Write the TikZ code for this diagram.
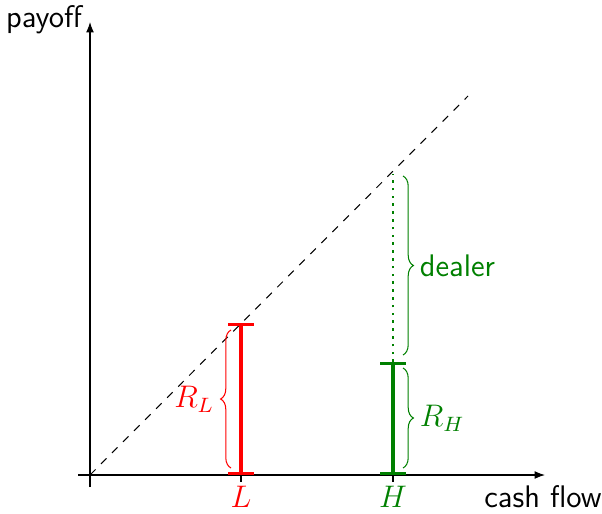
\documentclass[tikz,border=0pt]{standalone}
\usetikzlibrary{decorations.pathreplacing,arrows.meta}
\begin{document}
\begin{tikzpicture}[x=0.3846pt,y=-0.3846pt,
  axis/.style={thin,-{Latex[length=4pt,width=3pt]}},
  lbl/.style={font=\sffamily\large},
  brc/.style={decorate,decoration={brace,amplitude=4pt}},
  dkgreen/.style={green!50!black}]
\useasboundingbox (0,0) rectangle (602,513);
\coordinate (o) at (90,475);
\coordinate (xs) at (78,475);
\coordinate (xe) at (545,475);
\coordinate (ys) at (90,487);
\coordinate (ye) at (90,22);
\draw[axis] (xs) -- (xe);
\draw[axis] (ys) -- (ye);
\node[lbl] (py) at (44,20) {payoff};
\node[lbl] (cf) at (543,497) {cash flow};
\coordinate (de) at (468,96);
\draw[dashed] (o) -- (de);
% L
\coordinate (Lb) at (241,475);
\coordinate (Lt) at (241,323);
\coordinate (Lk) at (241,482);
\draw[thin] (Lb) -- (Lk);
\draw[red,line width=1.3pt,{|[width=10pt]}-{|[width=10pt]}] (Lb) -- (Lt);
\node[red,font=\large] (L) at (241,497) {$L$};
\coordinate (bL1) at (231,468);
\coordinate (bL2) at (231,330);
\draw[red,brc] (bL1) -- (bL2) node[midway,left=3pt,font=\large] (RL) {$R_L$};
% H
\coordinate (Hb) at (393,475);
\coordinate (Hm) at (393,362);
\coordinate (Ht) at (393,174);
\coordinate (Hk) at (393,482);
\draw[thin] (Hb) -- (Hk);
\draw[dkgreen,line width=1.3pt,{|[width=10pt]}-{|[width=10pt]}] (Hb) -- (Hm);
\draw[dkgreen,line width=1pt,dotted] (Hm) -- (Ht);
\node[dkgreen,font=\large] (H) at (393,497) {$H$};
\coordinate (bH1) at (403,368);
\coordinate (bH2) at (403,468);
\draw[dkgreen,brc] (bH1) -- (bH2) node[midway,right=3pt,font=\large] (RH) {$R_H$};
\coordinate (bD1) at (403,176);
\coordinate (bD2) at (403,355);
\draw[dkgreen,brc] (bD1) -- (bD2) node[midway,right=3pt,lbl] (dl) {dealer};
\end{tikzpicture}
\end{document}
